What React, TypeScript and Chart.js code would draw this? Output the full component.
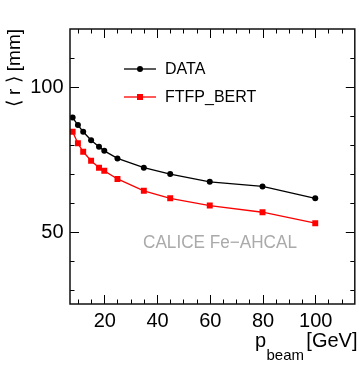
import React, { useEffect, useRef } from "react";
import { Chart, registerables } from "chart.js";

Chart.register(...registerables);

// ---- data ----
const beamEnergies = [8, 10, 12, 15, 18, 20, 25, 35, 45, 60, 80, 100];
const dataRadius = [89.4, 86.8, 84.5, 81.6, 79.3, 77.9, 75.3, 72.1, 69.9, 67.2, 65.6, 61.5];
const ftfpRadius = [84.5, 80.5, 77.6, 74.5, 72.1, 71.0, 68.2, 64.1, 61.5, 59.0, 56.7, 52.9];
const seriesLabels = ["DATA", "FTFP_BERT"];
const xMajorTicks = [20, 40, 60, 80, 100];
const xMinorTicks = [10, 15, 25, 30, 35, 45, 50, 55, 65, 70, 75, 85, 90, 95, 105, 110];
const yMajorTicks = [50, 100];
const yMinorTicks = [30, 40, 60, 70, 80, 90, 110];
const xRange = [7, 115];
const yRange = [25, 120];

const FONT = "'Liberation Sans', Arial, Helvetica, sans-serif";

const rootAxesPlugin = {
  id: "rootAxes",
  afterDatasetsDraw(chart: any) {
    const { ctx, chartArea: a, scales } = chart;
    const xs = scales.x;
    const ys = scales.y;
    ctx.save();
    ctx.strokeStyle = "#000";
    ctx.lineWidth = 1;
    const majorLen = 9;
    const minorLen = 4.5;
    ctx.beginPath();
    const xt = (v: number, len: number) => {
      const px = Math.round(xs.getPixelForValue(v)) + 0.5;
      ctx.moveTo(px, a.bottom);
      ctx.lineTo(px, a.bottom - len);
      ctx.moveTo(px, a.top);
      ctx.lineTo(px, a.top + len);
    };
    const yt = (v: number, len: number) => {
      const py = Math.round(ys.getPixelForValue(v)) + 0.5;
      ctx.moveTo(a.left, py);
      ctx.lineTo(a.left + len, py);
      ctx.moveTo(a.right, py);
      ctx.lineTo(a.right - len, py);
    };
    xMajorTicks.forEach((v) => xt(v, majorLen));
    xMinorTicks.forEach((v) => xt(v, minorLen));
    yMajorTicks.forEach((v) => yt(v, majorLen));
    yMinorTicks.forEach((v) => yt(v, minorLen));
    ctx.stroke();

    // frame
    ctx.lineWidth = 1.5;
    ctx.strokeStyle = "#111";
    ctx.strokeRect(a.left, a.top, a.right - a.left, a.bottom - a.top);

    // tick labels
    ctx.fillStyle = "#000";
    ctx.font = `20px ${FONT}`;
    ctx.textAlign = "center";
    ctx.textBaseline = "alphabetic";
    xMajorTicks.forEach((v) => {
      ctx.fillText(String(v), xs.getPixelForValue(v) + 0.5, 327);
    });
    ctx.textAlign = "right";
    ctx.textBaseline = "middle";
    yMajorTicks.forEach((v) => {
      ctx.fillText(String(v), 63.5, ys.getPixelForValue(v) + 1);
    });

    // x title
    ctx.textBaseline = "alphabetic";
    ctx.textAlign = "left";
    ctx.font = `20px ${FONT}`;
    ctx.fillText("p", 255, 347);
    ctx.font = `15px ${FONT}`;
    ctx.fillText("beam", 266.5, 360);
    ctx.font = `20px ${FONT}`;
    ctx.textAlign = "right";
    ctx.fillText("[GeV]", 357.5, 347);

    // y title
    ctx.save();
    ctx.translate(20, 29);
    ctx.rotate(-Math.PI / 2);
    ctx.textAlign = "right";
    ctx.textBaseline = "alphabetic";
    ctx.font = `19px ${FONT}`;
    ctx.fillText("\u27E8 r \u27E9 [mm]", 0, 0, 88);
    ctx.restore();

    // label
    ctx.font = `18px ${FONT}`;
    ctx.fillStyle = "#aaaaaa";
    ctx.textAlign = "left";
    ctx.textBaseline = "alphabetic";
    ctx.fillText("CALICE Fe\u2212AHCAL", 143, 248, 154);

    // legend
    chart.data.datasets.forEach((ds: any, i: number) => {
      const ly = 69 + i * 28;
      ctx.strokeStyle = ds.borderColor;
      ctx.lineWidth = 1.3;
      ctx.beginPath();
      ctx.moveTo(124, ly);
      ctx.lineTo(156, ly);
      ctx.stroke();
      ctx.fillStyle = ds.backgroundColor;
      if (ds.pointStyle === "rect") {
        ctx.fillRect(137, ly - 3, 6, 6);
      } else {
        ctx.beginPath();
        ctx.arc(140, ly, 3, 0, Math.PI * 2);
        ctx.fill();
      }
      ctx.fillStyle = "#000";
      ctx.font = `16px ${FONT}`;
      ctx.textAlign = "left";
      ctx.textBaseline = "middle";
      ctx.fillText(ds.label, 165, ly + 1);
    });
    ctx.restore();
  },
};

export default function App() {
  const canvasRef = useRef<HTMLCanvasElement | null>(null);

  useEffect(() => {
    const canvas = canvasRef.current;
    if (!canvas) return;
    const chart = new Chart(canvas, {
      type: "line",
      data: {
        datasets: [
          {
            label: seriesLabels[0],
            data: beamEnergies.map((e, i) => ({ x: e, y: dataRadius[i] })),
            borderColor: "#000000",
            backgroundColor: "#000000",
            borderWidth: 1.3,
            pointStyle: "circle",
            pointRadius: 3,
            pointBorderWidth: 0,
            tension: 0,
          },
          {
            label: seriesLabels[1],
            data: beamEnergies.map((e, i) => ({ x: e, y: ftfpRadius[i] })),
            borderColor: "#ff0000",
            backgroundColor: "#ff0000",
            borderWidth: 1.3,
            pointStyle: "rect",
            pointRadius: 4.2,
            pointBorderWidth: 0,
            tension: 0,
          },
        ],
      },
      options: {
        responsive: false,
        animation: false,
        devicePixelRatio: 1,
        layout: { padding: { left: 70, top: 29, right: 2, bottom: 67 } },
        scales: {
          x: { type: "linear", min: xRange[0], max: xRange[1], display: false },
          y: { type: "linear", min: yRange[0], max: yRange[1], display: false },
        },
        plugins: {
          legend: { display: false },
          tooltip: { enabled: false },
        },
      },
      plugins: [rootAxesPlugin],
    } as any);
    return () => chart.destroy();
  }, []);

  return (
    <div style={{ position: "fixed", left: 0, top: 0, width: 359, height: 371, background: "#fff" }}>
      <canvas ref={canvasRef} width={359} height={371} style={{ width: 359, height: 371 }} />
    </div>
  );
}
